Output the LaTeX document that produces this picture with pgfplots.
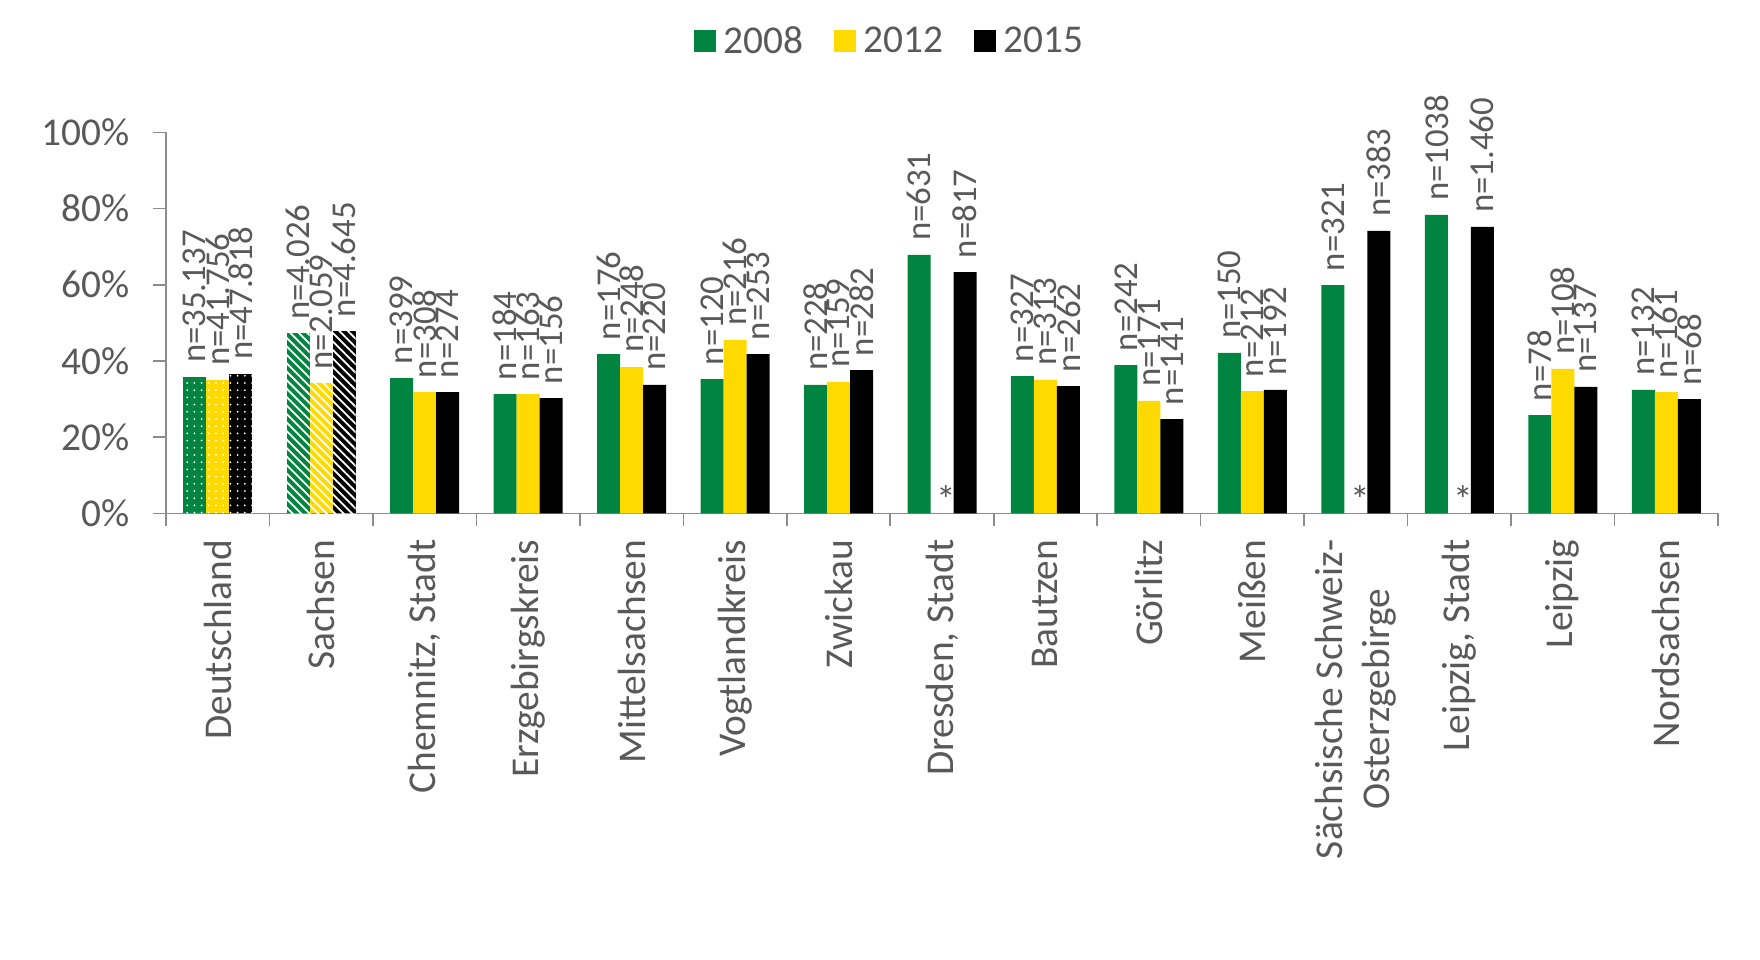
\documentclass[border=0pt]{standalone}
\usepackage{pgfplots}
\pgfplotsset{compat=1.18}
\usepackage{pgfplotstable}
\usetikzlibrary{patterns.meta}
\usepackage{fontspec}
\setmainfont{Carlito}
\definecolor{cgreen}{HTML}{00843F}
\definecolor{cyellow}{HTML}{FFDA00}
\definecolor{txtgray}{HTML}{595959}
\definecolor{axgray}{HTML}{8C8C8C}

\pgfplotstableread{
x y08 l08 y12 l12 y15 l15
0 35.8 n=35.137 35.0 n=41.756 36.6 n=47.818
}\deutsch
\pgfplotstableread{
x y08 l08 y12 l12 y15 l15
1 47.2 n=4.026 34.1 n=2.059 47.8 n=4.645
}\sachsen
\pgfplotstableread{
x y08 l08 y15 l15
2 35.5 n=399 31.8 n=274
3 31.3 n=184 30.2 n=156
4 41.8 n=176 33.7 n=220
5 35.2 n=120 41.8 n=253
6 33.7 n=228 37.6 n=282
7 67.8 n=631 63.3 n=817
8 36.0 n=327 33.4 n=262
9 38.9 n=242 24.7 n=141
10 42.1 n=150 32.4 n=192
11 59.9 n=321 74.1 n=383
12 78.3 n=1038 75.2 n=1.460
13 25.8 n=78 33.2 n=137
14 32.4 n=132 30.0 n=68
}\regular
\pgfplotstableread{
x y12 l12
2 31.8 n=308
3 31.3 n=163
4 38.4 n=248
5 45.5 n=216
6 34.5 n=159
8 35.0 n=313
9 29.5 n=171
10 32.1 n=212
13 37.9 n=108
14 31.8 n=161
}\regulartwelve
\pgfplotstableread{
x y l
7 0 *
11 0 *
12 0 *
}\stars

\begin{document}
\begin{tikzpicture}
\useasboundingbox (-83pt,-222.85pt) rectangle (797pt,256.65pt);
\begin{axis}[
  at={(0,0)}, anchor=south west,
  scale only axis, width=776pt, height=190.5pt,
  ybar, bar width=11.5pt,
  xmin=-0.5, xmax=14.5, ymin=0, ymax=100,
  axis x line*=bottom, axis y line*=left,
  axis line style={axgray, line width=0.8pt},
  tick align=outside,
  xtick={0,...,14},
  xticklabels={Deutschland, Sachsen, {Chemnitz, Stadt}, Erzgebirgskreis, Mittelsachsen, Vogtlandkreis, Zwickau, {Dresden, Stadt}, Bautzen, Görlitz, Meißen, {Sächsische Schweiz-\\Osterzgebirge}, {Leipzig, Stadt}, Leipzig, Nordsachsen},
  major x tick style={draw=none},
  minor xtick={-0.5,0.5,...,14.5},
  minor x tick style={axgray, line width=0.8pt},
  minor tick length=6.5pt,
  major tick length=6.5pt,
  ytick={0,20,...,100},
  ytick style={axgray, line width=0.8pt},
  yticklabel={\pgfmathprintnumber{\tick}\%},
  /pgf/number format/assume math mode=true,
  tick label style={font=\fontsize{19.7}{23.5}\selectfont, text=txtgray},
  yticklabel style={inner sep=0pt, xshift=-11.5pt},
  xticklabel style={rotate=90, anchor=east, align=center, inner sep=0pt},
  xticklabel shift=6.5pt,
  nodes near coords,
  point meta=explicit symbolic,
  every node near coord/.append style={rotate=90, anchor=west, inner sep=0pt, outer sep=7pt, font=\fontsize{17.4}{20}\selectfont, text=txtgray},
  legend style={at={(0.467,1.239)}, anchor=center, draw=none, fill=none,
    legend columns=3, font=\fontsize{19.7}{23.5}\selectfont, text=txtgray,
    /tikz/every odd column/.append style={column sep=2pt},
    /tikz/every even column/.append style={column sep=13pt}},
  legend image code/.code={\fill[#1] (0pt,-5.5pt) rectangle (11pt,5.5pt);},
]
\addplot[fill=cgreen, draw=none, bar shift=-11.5pt] table[x=x, y=y08, meta=l08]{\regular};
\addplot[fill=cyellow, draw=none, bar shift=0pt] table[x=x, y=y12, meta=l12]{\regulartwelve};
\addplot[fill=black, draw=none, bar shift=11.5pt] table[x=x, y=y15, meta=l15]{\regular};
\legend{2008,2012,2015}

\addplot[forget plot, fill=cgreen, draw=none, bar shift=-11.5pt, postaction={pattern={Dots[distance=3.6pt,radius=0.5pt]}, pattern color=white}] table[x=x, y=y08, meta=l08]{\deutsch};
\addplot[forget plot, fill=cyellow, draw=none, bar shift=0pt, postaction={pattern={Dots[distance=3.6pt,radius=0.5pt]}, pattern color=white}] table[x=x, y=y12, meta=l12]{\deutsch};
\addplot[forget plot, fill=black, draw=none, bar shift=11.5pt, postaction={pattern={Dots[distance=3.6pt,radius=0.5pt]}, pattern color=white}] table[x=x, y=y15, meta=l15]{\deutsch};

\addplot[forget plot, fill=cgreen, draw=none, bar shift=-11.5pt, postaction={pattern={Lines[angle=-45,distance=3pt,line width=0.9pt]}, pattern color=white}] table[x=x, y=y08, meta=l08]{\sachsen};
\addplot[forget plot, fill=cyellow, draw=none, bar shift=0pt, postaction={pattern={Lines[angle=-45,distance=3pt,line width=0.9pt]}, pattern color=white}] table[x=x, y=y12, meta=l12]{\sachsen};
\addplot[forget plot, fill=black, draw=none, bar shift=11.5pt, postaction={pattern={Lines[angle=-45,distance=3pt,line width=0.9pt]}, pattern color=white}] table[x=x, y=y15, meta=l15]{\sachsen};

\addplot[forget plot, fill=none, draw=none, bar shift=2pt,
  every node near coord/.append style={rotate=-90, anchor=south, outer sep=0pt, font=\fontsize{19.7}{23.5}\selectfont}] table[x=x, y=y, meta=l]{\stars};
\end{axis}
\end{tikzpicture}
\end{document}
